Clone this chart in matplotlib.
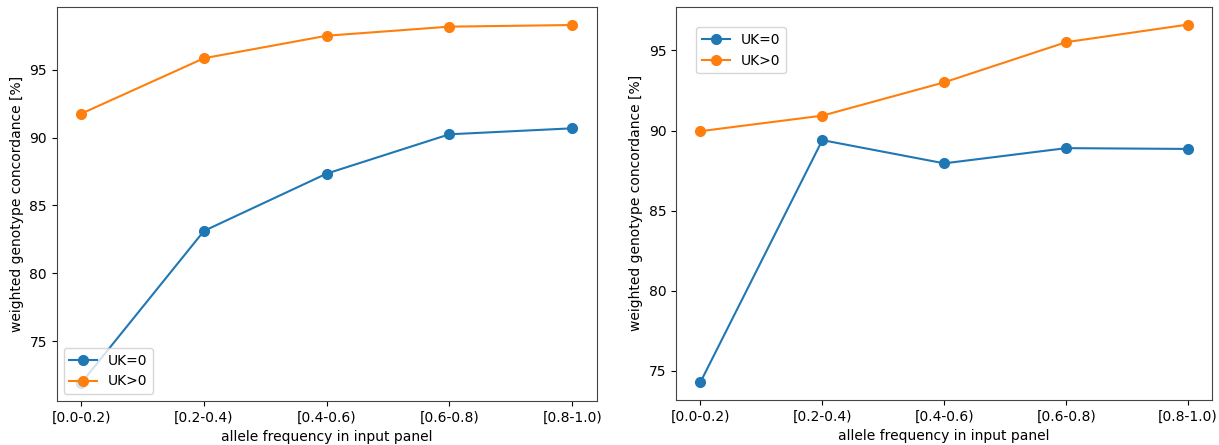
import matplotlib
matplotlib.use('Agg')
import matplotlib.pyplot as plt

bins = ['[0.0-0.2)', '[0.2-0.4)', '[0.4-0.6)', '[0.6-0.8)', '[0.8-1.0)']

# weighted genotype concordance [%], per allele frequency bin
left_uk0 = [71.9, 83.12, 87.35, 90.25, 90.69]
left_ukpos = [91.77, 95.86, 97.52, 98.19, 98.31]
right_uk0 = [74.28, 89.4, 87.95, 88.9, 88.85]
right_ukpos = [89.96, 90.93, 93.01, 95.52, 96.62]

plt.rcParams['font.size'] = 10

fig = plt.figure(figsize=(12.19, 4.45), dpi=100)
ax1 = fig.add_axes([0.0465, 0.099, 0.443, 0.885])
ax2 = fig.add_axes([0.5546, 0.101, 0.44, 0.884])

def plot_panel(ax, uk0, ukpos):
    x = range(len(bins))
    ax.plot(x, uk0, color='#1f77b4', marker='o', ms=7, lw=1.5, label='UK=0')
    ax.plot(x, ukpos, color='#ff7f0e', marker='o', ms=7, lw=1.5, label='UK>0')
    ax.set_xticks(list(x))
    ax.set_xticklabels(bins)
    ax.set_xlabel('allele frequency in input panel')
    ax.set_ylabel('weighted genotype concordance [%]')
    for s in ax.spines.values():
        s.set_color('#444444')

plot_panel(ax1, left_uk0, left_ukpos)
ax1.legend(loc='lower left')

plot_panel(ax2, right_uk0, right_ukpos)
ax2.legend(loc='upper left', bbox_to_anchor=(0.025, 0.965))

plt.savefig('out.png', dpi=100)
